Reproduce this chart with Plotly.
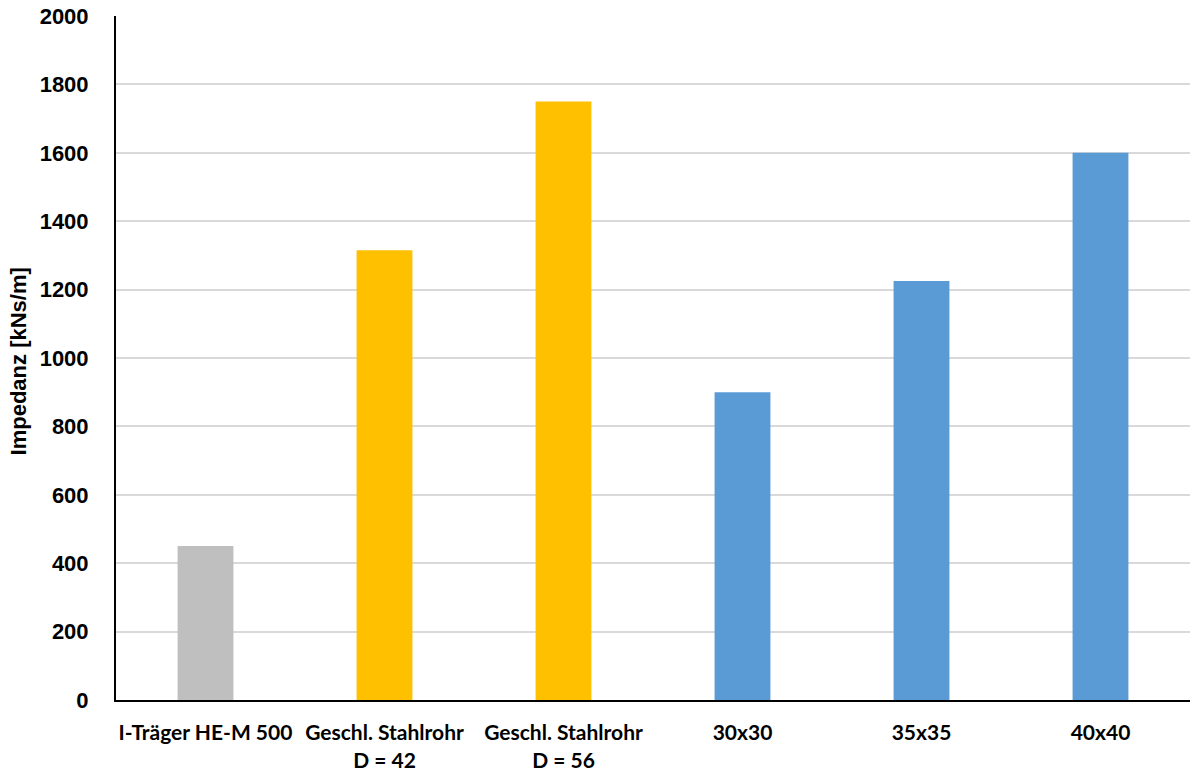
import plotly.graph_objects as go

# Impedanz verschiedener Pfahlquerschnitte
categories = [
    "I-Träger HE-M 500",
    "Geschl. Stahlrohr<br>D = 42",
    "Geschl. Stahlrohr<br>D = 56",
    "30x30",
    "35x35",
    "40x40",
]
impedanz = [450, 1315, 1750, 900, 1225, 1600]
bar_colors = ["#BFBFBF", "#FFC000", "#FFC000", "#5B9BD5", "#5B9BD5", "#5B9BD5"]
y_ticks = [0, 200, 400, 600, 800, 1000, 1200, 1400, 1600, 1800, 2000]

fig = go.Figure(
    go.Bar(
        x=categories,
        y=impedanz,
        marker=dict(color=bar_colors, line=dict(width=0)),
        width=0.312,
    )
)

fig.update_layout(
    width=1190,
    height=772,
    margin=dict(l=116, r=0, t=16, b=72),
    paper_bgcolor="white",
    plot_bgcolor="white",
    showlegend=False,
    font=dict(family="Arial", color="black"),
)

fig.update_yaxes(
    range=[0, 2000],
    tickvals=y_ticks,
    showgrid=True,
    gridcolor="#D9D9D9",
    gridwidth=1.5,
    zeroline=False,
    showline=True,
    linecolor="black",
    linewidth=2,
    ticks="",
    ticklabelstandoff=21,
    tickfont=dict(family="Arial", size=22, color="black", weight="bold"),
)

fig.update_xaxes(
    showgrid=False,
    showline=True,
    linecolor="black",
    linewidth=2,
    ticks="",
    ticklabelstandoff=13,
    tickfont=dict(family="Lato", size=21, color="black", weight="bold"),
)

fig.add_annotation(
    text="Impedanz [kNs/m]",
    textangle=-90,
    xref="paper",
    yref="paper",
    x=-98 / 1074,
    y=0.495,
    xanchor="center",
    yanchor="middle",
    showarrow=False,
    font=dict(family="Arial", size=22, color="black", weight="bold"),
)

fig.write_html("out.html")
